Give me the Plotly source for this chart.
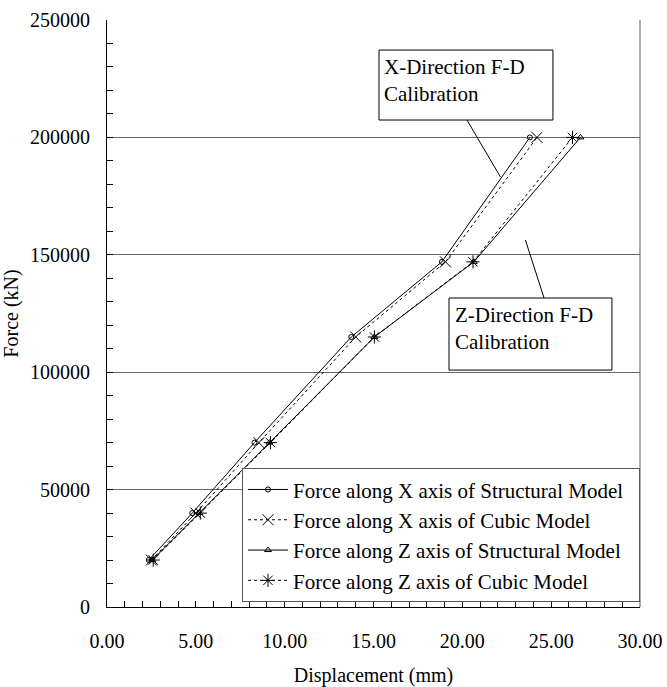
import plotly.graph_objects as go

force = [20000, 40000, 70000, 115000, 147000, 200000]
x_struct = [2.35, 4.80, 8.30, 13.75, 18.85, 23.80]
x_cubic = [2.50, 5.00, 8.55, 14.00, 19.05, 24.20]
z_struct = [2.55, 5.20, 9.15, 15.05, 20.65, 26.65]
z_cubic = [2.60, 5.25, 9.20, 15.05, 20.60, 26.20]

names = [
    "Force along X axis of Structural Model",
    "Force along X axis of Cubic Model",
    "Force along Z axis of Structural Model",
    "Force along Z axis of Cubic Model",
]

FONT = "Liberation Serif"
PAD = "\u00a0\u00a0"

fig = go.Figure()
fig.add_trace(go.Scatter(x=x_struct, y=force, name=names[0] + PAD, mode="lines+markers",
                         line=dict(color="black", width=1),
                         marker=dict(symbol="circle-open", size=5, color="black", line=dict(width=1)),
                         legendgroup="a"))
fig.add_trace(go.Scatter(x=x_cubic, y=force, name=names[1] + PAD, mode="lines+markers",
                         line=dict(color="black", width=1, dash="dot"),
                         marker=dict(symbol="x-thin-open", size=11, color="black", line=dict(width=1, color="black")),
                         legendgroup="b"))
fig.add_trace(go.Scatter(x=z_struct, y=force, name=names[2] + PAD, mode="lines+markers",
                         line=dict(color="black", width=1),
                         marker=dict(symbol="triangle-up-open", size=6, color="black", line=dict(width=1)),
                         legendgroup="c"))
fig.add_trace(go.Scatter(x=z_cubic, y=force, name=names[3] + PAD, mode="lines+markers",
                         line=dict(color="black", width=1, dash="dot"),
                         marker=dict(symbol="asterisk-open", size=11, color="black", line=dict(width=1, color="black")),
                         legendgroup="d"))

fig.update_layout(
    width=667, height=687,
    margin=dict(l=107, r=27, t=20, b=80, autoexpand=False),
    paper_bgcolor="white", plot_bgcolor="white",
    font=dict(family=FONT, size=20, color="black"),
    showlegend=True,
    legend=dict(x=1, xanchor="right", y=0.008, yanchor="bottom",
                bgcolor="white", bordercolor="#555", borderwidth=1,
                font=dict(family=FONT, size=21, color="black"),
                tracegroupgap=3, traceorder="normal", itemwidth=40),
    xaxis=dict(range=[0, 30], dtick=5, tickformat=".2f", showgrid=False, zeroline=False,
               showline=True, linecolor="black", linewidth=1, automargin=False,
               ticks="inside", ticklen=6, tickcolor="black", ticklabelstandoff=16,
               minor=dict(dtick=1, ticks="inside", ticklen=6, tickcolor="black", showgrid=False),
               title=dict(text="Displacement (mm)", font=dict(family=FONT, size=20), standoff=18),
               tickfont=dict(family=FONT, size=20)),
    yaxis=dict(range=[0, 250000], dtick=50000, tickformat="d", showgrid=True, gridcolor="#666", gridwidth=1,
               zeroline=False, showline=True, linecolor="black", linewidth=1, automargin=False,
               ticks="inside", ticklen=6, tickcolor="black", ticklabelstandoff=12,
               minor=dict(dtick=10000, ticks="inside", ticklen=6, tickcolor="black", showgrid=False),
               title=dict(text="Force (kN)", font=dict(family=FONT, size=20), standoff=14),
               tickfont=dict(family=FONT, size=20)),
)

# right border
fig.add_shape(type="line", xref="paper", yref="paper", x0=1, x1=1, y0=0, y1=1,
              line=dict(color="#555", width=1))

# annotation boxes (callouts)
fig.add_shape(type="rect", xref="x", yref="y", x0=15.31, x1=25.10, y0=207400, y1=237200,
              line=dict(color="black", width=1), fillcolor="white", layer="above")
fig.add_shape(type="line", xref="x", yref="y", x0=20.26, y0=207400, x1=22.15, y1=183100,
              line=dict(color="black", width=1))
fig.add_annotation(xref="x", yref="y", x=15.48, y=236000, xanchor="left", yanchor="top",
                   text="X-Direction F-D<br>Calibration", showarrow=False, align="left",
                   font=dict(family=FONT, size=21, color="black"))

fig.add_shape(type="rect", xref="x", yref="y", x0=19.25, x1=28.42, y0=100900, y1=131600,
              line=dict(color="black", width=1), fillcolor="white", layer="above")
fig.add_shape(type="line", xref="x", yref="y", x0=24.60, y0=131600, x1=23.55, y1=156300,
              line=dict(color="black", width=1))
fig.add_annotation(xref="x", yref="y", x=19.45, y=130400, xanchor="left", yanchor="top",
                   text="Z-Direction F-D<br>Calibration", showarrow=False, align="left",
                   font=dict(family=FONT, size=21, color="black"))

fig.write_html("out.html", config={"displayModeBar": False},
               post_script="document.body.style.margin='0';document.body.style.overflow='hidden';")
